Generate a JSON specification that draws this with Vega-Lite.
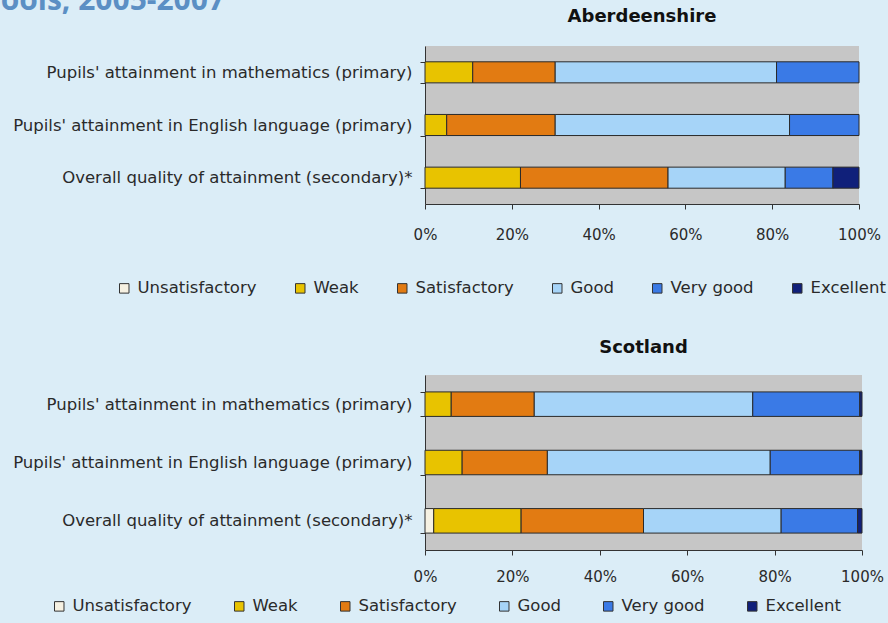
{
  "$schema": "https://vega.github.io/schema/vega-lite/v6.json",
  "background": "#dbedf7",
  "padding": {"top": -14, "left": 0, "right": 4, "bottom": 12},
  "title": {"text": "ools, 2005-2007", "anchor": "start", "fontSize": 30, "font": "Open Sans", "fontWeight": "bold", "color": "#5b8fc4", "offset": -8, "dx": -12},
  "data": {"values": [
    {"region": "Aberdeenshire", "measure": "Pupils' attainment in mathematics (primary)", "level": "Weak", "value": 11},
    {"region": "Aberdeenshire", "measure": "Pupils' attainment in mathematics (primary)", "level": "Satisfactory", "value": 19},
    {"region": "Aberdeenshire", "measure": "Pupils' attainment in mathematics (primary)", "level": "Good", "value": 51},
    {"region": "Aberdeenshire", "measure": "Pupils' attainment in mathematics (primary)", "level": "Very good", "value": 19},
    {"region": "Aberdeenshire", "measure": "Pupils' attainment in English language (primary)", "level": "Weak", "value": 5},
    {"region": "Aberdeenshire", "measure": "Pupils' attainment in English language (primary)", "level": "Satisfactory", "value": 25},
    {"region": "Aberdeenshire", "measure": "Pupils' attainment in English language (primary)", "level": "Good", "value": 54},
    {"region": "Aberdeenshire", "measure": "Pupils' attainment in English language (primary)", "level": "Very good", "value": 16},
    {"region": "Aberdeenshire", "measure": "Overall quality of attainment (secondary)*", "level": "Weak", "value": 22},
    {"region": "Aberdeenshire", "measure": "Overall quality of attainment (secondary)*", "level": "Satisfactory", "value": 34},
    {"region": "Aberdeenshire", "measure": "Overall quality of attainment (secondary)*", "level": "Good", "value": 27},
    {"region": "Aberdeenshire", "measure": "Overall quality of attainment (secondary)*", "level": "Very good", "value": 11},
    {"region": "Aberdeenshire", "measure": "Overall quality of attainment (secondary)*", "level": "Excellent", "value": 6},
    {"region": "Scotland", "measure": "Pupils' attainment in mathematics (primary)", "level": "Weak", "value": 6},
    {"region": "Scotland", "measure": "Pupils' attainment in mathematics (primary)", "level": "Satisfactory", "value": 19},
    {"region": "Scotland", "measure": "Pupils' attainment in mathematics (primary)", "level": "Good", "value": 50},
    {"region": "Scotland", "measure": "Pupils' attainment in mathematics (primary)", "level": "Very good", "value": 24.5},
    {"region": "Scotland", "measure": "Pupils' attainment in mathematics (primary)", "level": "Excellent", "value": 0.5},
    {"region": "Scotland", "measure": "Pupils' attainment in English language (primary)", "level": "Weak", "value": 8.5},
    {"region": "Scotland", "measure": "Pupils' attainment in English language (primary)", "level": "Satisfactory", "value": 19.5},
    {"region": "Scotland", "measure": "Pupils' attainment in English language (primary)", "level": "Good", "value": 51},
    {"region": "Scotland", "measure": "Pupils' attainment in English language (primary)", "level": "Very good", "value": 20.5},
    {"region": "Scotland", "measure": "Pupils' attainment in English language (primary)", "level": "Excellent", "value": 0.5},
    {"region": "Scotland", "measure": "Overall quality of attainment (secondary)*", "level": "Unsatisfactory", "value": 2},
    {"region": "Scotland", "measure": "Overall quality of attainment (secondary)*", "level": "Weak", "value": 20},
    {"region": "Scotland", "measure": "Overall quality of attainment (secondary)*", "level": "Satisfactory", "value": 28},
    {"region": "Scotland", "measure": "Overall quality of attainment (secondary)*", "level": "Good", "value": 31.5},
    {"region": "Scotland", "measure": "Overall quality of attainment (secondary)*", "level": "Very good", "value": 17.5},
    {"region": "Scotland", "measure": "Overall quality of attainment (secondary)*", "level": "Excellent", "value": 1}
  ]},
  "transform": [{"calculate": "indexof(['Unsatisfactory', 'Weak', 'Satisfactory', 'Good', 'Very good', 'Excellent'], datum.level)", "as": "rank"}],
  "spacing": 42,
  "resolve": {"scale": {"color": "independent", "x": "independent", "y": "independent"}},
  "vconcat": [
    {
      "width": 434,
      "height": 158,
      "title": {"text": "Aberdeenshire", "offset": 12},
      "transform": [{"filter": "datum.region === 'Aberdeenshire'"}],
      "mark": {"type": "bar", "stroke": "#2a2a2a", "strokeWidth": 1},
      "encoding": {
        "y": {"field": "measure", "type": "nominal", "sort": ["Pupils' attainment in mathematics (primary)", "Pupils' attainment in English language (primary)", "Overall quality of attainment (secondary)*"], "scale": {"paddingInner": 0.6, "paddingOuter": 0.3}, "axis": {"title": null, "tickBand": "extent", "labelPadding": 8, "tickSize": 5, "labelLimit": 500}},
        "x": {"field": "value", "type": "quantitative", "stack": "normalize", "axis": {"title": null, "format": ".0%", "values": [0, 0.2, 0.4, 0.6, 0.8, 1], "labelPadding": 18, "tickSize": 5, "labelFlush": false}},
        "order": {"field": "rank", "type": "quantitative", "sort": "ascending"},
        "color": {"field": "level", "type": "nominal", "sort": ["Unsatisfactory", "Weak", "Satisfactory", "Good", "Very good", "Excellent"], "scale": {"domain": ["Unsatisfactory", "Weak", "Satisfactory", "Good", "Very good", "Excellent"], "range": ["#f6f1e2", "#e8c300", "#e27b12", "#a6d4f8", "#3a7ae6", "#10207a"]}, "legend": {"orient": "none", "direction": "horizontal", "legendX": -309, "legendY": 234, "title": null, "columnPadding": 35}}
      }
    },
    {
      "width": 437,
      "height": 175,
      "title": {"text": "Scotland", "offset": 10},
      "transform": [{"filter": "datum.region === 'Scotland'"}],
      "mark": {"type": "bar", "stroke": "#2a2a2a", "strokeWidth": 1},
      "encoding": {
        "y": {"field": "measure", "type": "nominal", "sort": ["Pupils' attainment in mathematics (primary)", "Pupils' attainment in English language (primary)", "Overall quality of attainment (secondary)*"], "scale": {"paddingInner": 0.58, "paddingOuter": 0.29}, "axis": {"title": null, "tickBand": "extent", "labelPadding": 8, "tickSize": 5, "labelLimit": 500}},
        "x": {"field": "value", "type": "quantitative", "stack": "normalize", "axis": {"title": null, "format": ".0%", "values": [0, 0.2, 0.4, 0.6, 0.8, 1], "labelPadding": 14, "tickSize": 5, "labelFlush": false}},
        "order": {"field": "rank", "type": "quantitative", "sort": "ascending"},
        "color": {"field": "level", "type": "nominal", "sort": ["Unsatisfactory", "Weak", "Satisfactory", "Good", "Very good", "Excellent"], "scale": {"domain": ["Unsatisfactory", "Weak", "Satisfactory", "Good", "Very good", "Excellent"], "range": ["#f6f1e2", "#e8c300", "#e27b12", "#a6d4f8", "#3a7ae6", "#10207a"]}, "legend": {"orient": "none", "direction": "horizontal", "legendX": -374, "legendY": 223, "title": null, "columnPadding": 39}}
      }
    }
  ],
  "config": {
    "view": {"fill": "#c6c6c6", "stroke": null},
    "axis": {"labelFont": "DejaVu Sans", "labelFontSize": 16.5, "labelColor": "#2a2a2a", "domainColor": "#333333", "tickColor": "#333333", "grid": false},
    "axisX": {"labelFontSize": 15},
    "legend": {"labelFont": "DejaVu Sans", "labelFontSize": 16.5, "labelColor": "#2a2a2a", "symbolType": "square", "symbolSize": 90, "symbolStrokeColor": "#333333", "symbolStrokeWidth": 1, "labelOffset": 5, "labelLimit": 300},
    "title": {"font": "DejaVu Sans", "fontWeight": "bold", "fontSize": 18, "color": "#111111"}
  }
}
